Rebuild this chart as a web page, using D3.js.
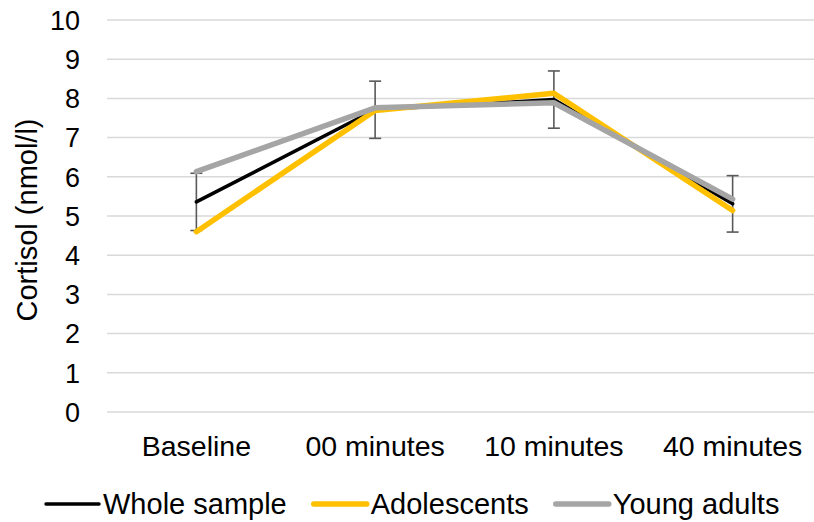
<!DOCTYPE html>
<html>
<head>
<meta charset="utf-8">
<script src="https://cdn.jsdelivr.net/npm/d3@7"></script>
<style>
  body { margin: 0; background: #fff; }
  text { font-family: "Liberation Sans", Arial, sans-serif; fill: #000; }
</style>
</head>
<body>
<svg width="814" height="522"></svg>
<script>
// chart data
var categories = ["Baseline", "00 minutes", "10 minutes", "40 minutes"];
var wholeSample = [5.36, 7.71, 7.97, 5.31];
var adolescents = [4.60, 7.69, 8.13, 5.14];
var youngAdults = [6.13, 7.76, 7.89, 5.43];
var wholeError = [0.73, 0.73, 0.73, 0.72];
var yTicks = [0, 1, 2, 3, 4, 5, 6, 7, 8, 9, 10];

var series = [
  {name: "Whole sample", values: wholeSample, color: "#000000", width: 3.5},
  {name: "Adolescents", values: adolescents, color: "#FFC000", width: 5.5},
  {name: "Young adults", values: youngAdults, color: "#A5A5A5", width: 5.5}
];

var plot = {left: 107, right: 822, top: 20, bottom: 412};

var svg = d3.select("svg");

var x = d3.scalePoint()
  .domain(categories)
  .range([plot.left, plot.right])
  .padding(0.5);

var y = d3.scaleLinear()
  .domain([0, 10])
  .range([plot.bottom, plot.top]);

// gridlines
svg.append("g").selectAll("line")
  .data(yTicks)
  .enter()
  .append("line")
  .attr("x1", plot.left)
  .attr("x2", plot.right)
  .attr("y1", function(d) { return y(d); })
  .attr("y2", function(d) { return y(d); })
  .attr("stroke", "#d9d9d9")
  .attr("stroke-width", 1.5);

// y tick labels
svg.append("g").selectAll("text")
  .data(yTicks)
  .enter()
  .append("text")
  .attr("x", 80)
  .attr("y", function(d) { return y(d); })
  .attr("dy", "0.36em")
  .attr("text-anchor", "end")
  .style("font-size", "27px")
  .text(function(d) { return d; });

// x labels
svg.append("g").selectAll("text")
  .data(categories)
  .enter()
  .append("text")
  .attr("x", function(d) { return x(d); })
  .attr("y", 456)
  .attr("text-anchor", "middle")
  .style("font-size", "28.5px")
  .text(function(d) { return d; });

// y axis title
svg.append("text")
  .attr("transform", "translate(37," + ((plot.top + plot.bottom) / 2 + 4) + ") rotate(-90)")
  .attr("text-anchor", "middle")
  .style("font-size", "29px")
  .text("Cortisol (nmol/l)");

// error bars (whole sample)
var eb = svg.append("g").attr("stroke", "#595959").attr("stroke-width", 1.6);
categories.forEach(function(c, i) {
  var hi = y(wholeSample[i] + wholeError[i]);
  var lo = y(wholeSample[i] - wholeError[i]);
  var cx = x(c);
  eb.append("line").attr("x1", cx).attr("x2", cx).attr("y1", hi).attr("y2", lo);
  eb.append("line").attr("x1", cx - 6).attr("x2", cx + 6).attr("y1", hi).attr("y2", hi);
  eb.append("line").attr("x1", cx - 6).attr("x2", cx + 6).attr("y1", lo).attr("y2", lo);
});

// lines
var line = d3.line()
  .x(function(d, i) { return x(categories[i]); })
  .y(function(d) { return y(d); });

svg.append("g").selectAll("path")
  .data(series)
  .enter()
  .append("path")
  .attr("d", function(s) { return line(s.values); })
  .attr("fill", "none")
  .attr("stroke", function(s) { return s.color; })
  .attr("stroke-width", function(s) { return s.width; })
  .attr("stroke-linecap", "round")
  .attr("stroke-linejoin", "round");

// legend
var legend = svg.append("g");
var lx = 46;
series.forEach(function(s) {
  legend.append("line")
    .attr("x1", lx).attr("x2", lx + 53)
    .attr("y1", 504).attr("y2", 504)
    .attr("stroke", s.color)
    .attr("stroke-width", s.width)
    .attr("stroke-linecap", "round");
  var t = legend.append("text")
    .attr("x", lx + 57)
    .attr("y", 514)
    .style("font-size", "29px")
    .text(s.name);
  lx = lx + 57 + t.node().getComputedTextLength() + 27;
});
</script>
</body>
</html>
